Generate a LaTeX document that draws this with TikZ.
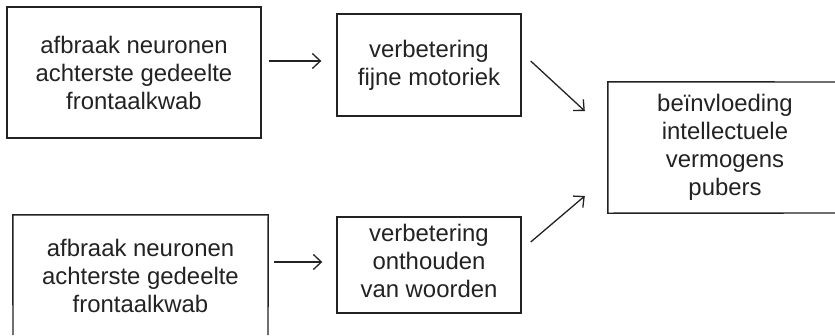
\documentclass[tikz,border=0pt]{standalone}
\usepackage{fontspec}
\setmainfont{Liberation Sans}
\usetikzlibrary{arrows.meta}
\definecolor{ink}{HTML}{222222}
\tikzset{
  boxtext/.style={text=ink, align=center, inner sep=0pt,
    font=\fontsize{23.9}{28}\selectfont},
  box/.style={boxtext, draw=ink, line width=1.4pt},
  edge/.style={draw=ink, line width=1.4pt},
  arr/.style={draw=ink, line width=1.3pt, -{Straight Barb[length=8pt,width=15pt,line width=1.3pt]}}
}
\begin{document}
\begin{tikzpicture}[x=1pt,y=-1pt]
\useasboundingbox (0,0) rectangle (835,335);
\node[box, minimum width=254pt, minimum height=131pt] (b1) at (134,72.5)
  {afbraak neuronen\\achterste gedeelte\\frontaalkwab};
\node[box, minimum width=184pt, minimum height=102pt] (b2) at (429,65)
  {verbetering\\fijne motoriek};
\node[boxtext, minimum width=234pt, minimum height=131pt] (b3) at (725,147.5)
  {beïnvloeding\\intellectuele\\vermogens\\pubers};
\coordinate (b3ne) at (835,82);
\coordinate (b3se) at (835,213);
\draw[edge] (b3ne) -- (b3.north west) -- (b3.south west) -- (b3se);
\node[boxtext, minimum width=255pt, minimum height=121pt] (b4) at (140.5,275.5)
  {afbraak neuronen\\achterste gedeelte\\frontaalkwab};
\coordinate (b4sw) at (13,335);
\coordinate (b4se) at (268,335);
\draw[edge] (b4sw) -- (b4.north west) -- (b4.north east) -- (b4se);
\node[box, minimum width=184pt, minimum height=96pt, text depth=8pt] (b5) at (429,265)
  {verbetering\\onthouden\\van woorden};
\draw[arr] ([xshift=7pt,yshift=11.5pt]b1.east) -- ([xshift=-15pt,yshift=4pt]b2.west);
\draw[arr] ([xshift=9pt,yshift=4pt]b2.east) -- ([xshift=-23pt,yshift=36.5pt]b3.west);
\draw[arr] ([xshift=6pt,yshift=13.5pt]b4.east) -- ([xshift=-14pt,yshift=3pt]b5.west);
\draw[arr] ([xshift=9pt,yshift=23pt]b5.east) -- ([xshift=-23pt,yshift=-48.5pt]b3.west);
\end{tikzpicture}
\end{document}
